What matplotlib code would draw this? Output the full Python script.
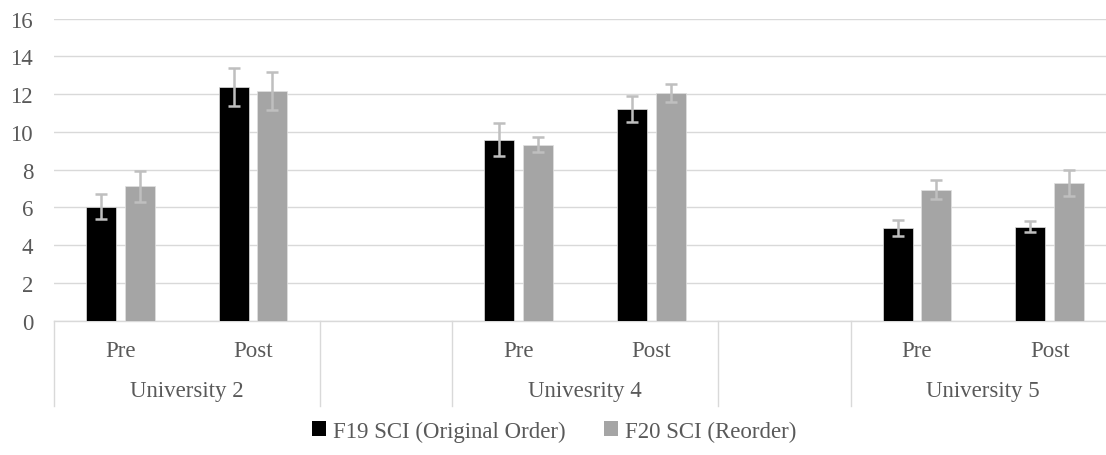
import matplotlib
matplotlib.use("Agg")
import matplotlib.pyplot as plt
from matplotlib.patches import Patch

# ---- data ----
groups = ["University 2", "Univesrity 4", "University 5"]
phases = ["Pre", "Post"]
series_names = ["F19 SCI (Original Order)", "F20 SCI (Reorder)"]

f19 = [6.03, 12.38, 9.57, 11.20, 4.90, 4.97]
f19_err = [0.67, 1.00, 0.88, 0.68, 0.40, 0.30]
f20 = [7.11, 12.17, 9.32, 12.03, 6.92, 7.29]
f20_err = [0.82, 1.00, 0.38, 0.48, 0.50, 0.69]

# ---- style ----
TEXT = "#595959"
GRID = "#D9D9D9"
ERR = "#BFBFBF"
COLORS = ["#000000", "#A5A5A5"]
FS = 16.5

plt.rcParams["font.family"] = "serif"
plt.rcParams["font.serif"] = ["Liberation Serif", "DejaVu Serif"]

fig = plt.figure(figsize=(11.06, 4.56), dpi=100)
# plot area runs a little past the right edge, as in the cropped original
ax = fig.add_axes([54 / 1106, 1 - 321.5 / 456, 1062 / 1106, 302 / 456])

# slot positions: each group takes 2 slots, with an empty slot between groups
slots = []
for gi in range(len(groups)):
    for j in range(len(phases)):
        slots.append(gi * 3 + j)

width = 0.225
offset = 0.145
for vals, errs, color, name, sign in [
    (f19, f19_err, COLORS[0], series_names[0], -1),
    (f20, f20_err, COLORS[1], series_names[1], 1),
]:
    xs = [s + sign * offset for s in slots]
    ax.bar(xs, vals, width=width, color=color, edgecolor="#E0E0E0",
           linewidth=0.5, zorder=3, label=name)
    ax.errorbar(xs, vals, yerr=errs, fmt="none", ecolor=ERR,
                elinewidth=1.8, capsize=4.2, capthick=1.8, zorder=4)

n_slots = len(groups) * 3 - 1
ax.set_xlim(-0.5, n_slots - 0.5)
ax.set_ylim(0, 16)
ax.set_yticks(range(0, 17, 2))
ax.yaxis.grid(True, color=GRID, linewidth=1.0, zorder=0)
ax.set_axisbelow(True)
ax.tick_params(axis="y", length=0, pad=15, labelsize=FS, labelcolor=TEXT)
ax.tick_params(axis="x", length=0)
ax.set_xticks([])
for side in ["top", "right", "left"]:
    ax.spines[side].set_visible(False)
ax.spines["bottom"].set_color(GRID)
ax.spines["bottom"].set_linewidth(1.0)

# multi-level category axis
trans = ax.get_xaxis_transform()
div_bottom = -(406.7 - 321.5) / 302
dividers = [-0.5]
for gi in range(len(groups)):
    dividers.append(gi * 3 + 1.5)
    if gi < len(groups) - 1:
        dividers.append(gi * 3 + 2.5)
for d in dividers:
    ax.plot([d, d], [0, div_bottom], transform=trans, color=GRID,
            linewidth=1.0, clip_on=False)

for gi, g in enumerate(groups):
    for j, p in enumerate(phases):
        ax.text(gi * 3 + j, -(356.7 - 321.5) / 302, p, transform=trans,
                ha="center", va="baseline", fontsize=FS, color=TEXT)
    ax.text(gi * 3 + 0.5, -(397.3 - 321.5) / 302, g, transform=trans,
            ha="center", va="baseline", fontsize=FS, color=TEXT)

handles = [Patch(facecolor=c, edgecolor="none") for c in COLORS]
fig.legend(handles, series_names, loc="center", bbox_to_anchor=(554 / 1106, 1 - 432 / 456),
           ncol=2, frameon=False, fontsize=FS, labelcolor=TEXT,
           handlelength=0.6, handleheight=0.6, handletextpad=0.3, columnspacing=1.7)

fig.savefig("out.png", dpi=100)
